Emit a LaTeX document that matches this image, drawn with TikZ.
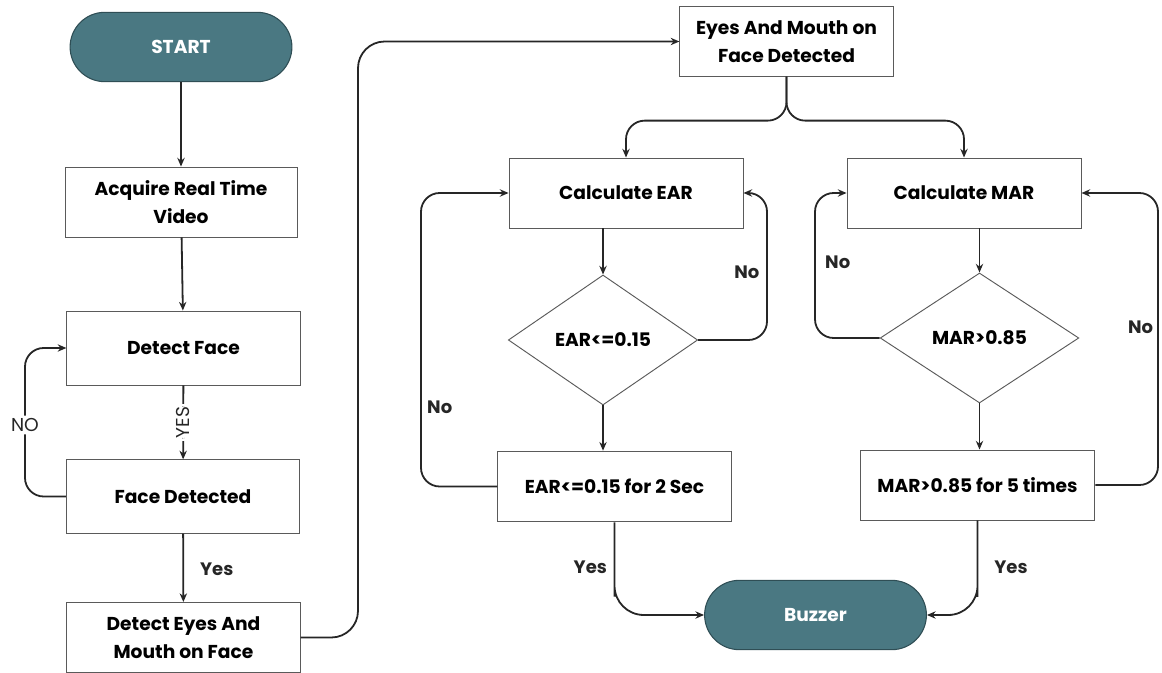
\documentclass[tikz,border=0pt]{standalone}
\usepackage{fontspec}
\setmainfont{Poppins}
\usetikzlibrary{shapes.geometric,shapes.misc,arrows.meta}
\definecolor{teal1}{HTML}{4A7882}
\definecolor{teal2}{HTML}{2F4E55}
\definecolor{boxline}{HTML}{5A5A5A}
\begin{document}
\begin{tikzpicture}[x=0.75pt,y=-0.75pt,
  every node/.style={font=\bfseries\fontsize{14pt}{21pt}\selectfont, align=center},
  term/.style={rounded rectangle, fill=teal1, draw=teal2, line width=0.8pt, text=white,
    minimum width=173pt, minimum height=52pt},
  proc/.style={rectangle, draw=boxline, line width=0.7pt, fill=white, inner sep=2pt},
  dec/.style={diamond, draw=boxline, line width=0.7pt, fill=white, inner sep=0pt},
  arr/.style={draw=black!85, line width=1.35pt, -{Stealth[length=6.5pt,width=5.5pt]}, rounded corners=14pt},
  lbl/.style={font=\bfseries\fontsize{13.5pt}{16pt}\selectfont, text=black!85, inner sep=2pt},
  lblr/.style={font=\fontsize{14pt}{16pt}\selectfont, text=black!85, inner sep=2pt}
]
\useasboundingbox (0,0) rectangle (1162,673);
% nodes
\node[term] (start) at (181,47) {START};
\node[proc, minimum width=174pt, minimum height=52.5pt] (acq) at (181,202) {Acquire Real Time\\Video};
\node[proc, minimum width=175pt, minimum height=55.5pt] (df) at (183.5,348) {Detect Face};
\node[proc, minimum width=175pt, minimum height=55pt] (fd) at (183,496.5) {Face Detected};
\node[proc, minimum width=175pt, minimum height=52.5pt] (dem) at (183.5,637.5) {Detect Eyes And\\Mouth on Face};
\node[proc, minimum width=160pt, minimum height=52pt] (emd) at (786.5,41.5) {Eyes And Mouth on\\Face Detected};
\node[proc, minimum width=175.5pt, minimum height=52.5pt] (cear) at (626,193) {Calculate EAR};
\node[dec, minimum width=142pt, minimum height=97.5pt] (ed) at (603,340) {EAR<=0.15};
\node[proc, minimum width=175pt, minimum height=53pt] (eb) at (614.5,486.5) {EAR<=0.15 for 2 Sec};
\node[proc, minimum width=175.5pt, minimum height=52.5pt] (cmar) at (964,193) {Calculate MAR};
\node[dec, minimum width=149pt, minimum height=97.5pt] (md) at (979.5,338) {MAR>0.85};
\node[proc, minimum width=176pt, minimum height=52.5pt] (mb) at (977.5,485) {MAR>0.85 for 5 times};
\node[term] (buz) at (815.5,615) {Buzzer};
% connectors
\draw[arr] (start) -- (acq);
\draw[arr] (acq) -- (df);
\draw[arr] (df) -- node[lblr, rotate=90, fill=white] {YES} (fd);
\draw[arr] (fd.west) -| (25,425) node[lblr, fill=white] {NO} |- (df.west);
\draw[arr] (fd) -- node[lbl, right, xshift=10pt, yshift=-1pt] {Yes} (dem);
\draw[arr, rounded corners=20pt] (dem.east) -| (358,300) |- (emd.west);
\draw[arr] (emd.south) -- ++(0,44) -| (cear.north);
\draw[arr] (emd.south) -- ++(0,44) -| (cmar.north);
\draw[arr] (cear.south -| ed.north) -- (ed.north);
\draw[arr] (ed.east) -| (767,272) node[lbl, left, xshift=-3pt] {No} |- (cear.east);
\draw[arr] (ed.south) -- (ed.south |- eb.north);
\draw[arr] (eb.west) -| (421,407) node[lbl, right, xshift=2pt] {No} |- (cear.west);
\draw[arr, rounded corners=22pt] (eb.south) -- ++(0,45) node[lbl, left, xshift=-3pt] {Yes} |- (buz.west);
\draw[arr] (cmar.south -| md.north) -- (md.north);
\draw[arr] (md.west) -| (815,262) node[lbl, right, xshift=5pt] {No} |- (cmar.west);
\draw[arr] (md.south) -- (md.south |- mb.north);
\draw[arr] (mb.east) -| (1158,327) node[lbl, left, xshift=-1pt] {No} |- (cmar.east);
\draw[arr, rounded corners=22pt] (mb.south) -- ++(0,47) node[lbl, right, xshift=10pt] {Yes} |- (buz.east);
\end{tikzpicture}
\end{document}
